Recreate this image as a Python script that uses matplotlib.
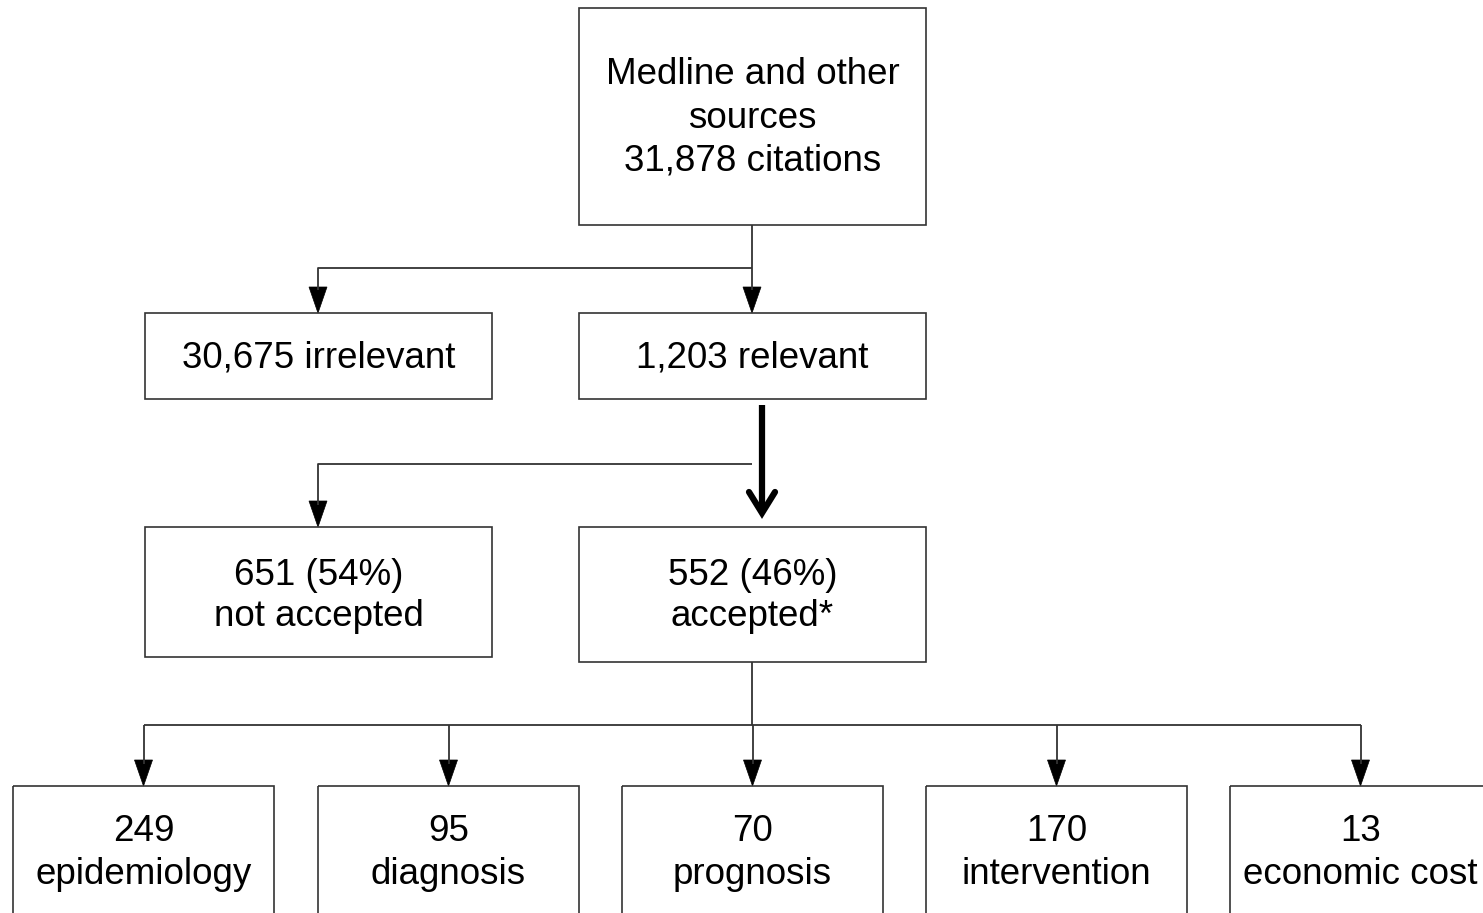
import matplotlib.pyplot as plt
from matplotlib.patches import Rectangle, Polygon

plt.rcParams['font.family'] = ['Liberation Sans', 'DejaVu Sans']

# flow counts and labels
top_label = 'Medline and other\nsources\n31,878 citations'
screen_counts = [30675, 1203]
screen_labels = ['irrelevant', 'relevant']
accept_counts = [651, 552]
accept_pcts = [54, 46]
accept_labels = ['not accepted', 'accepted*']
topic_counts = [249, 95, 70, 170, 13]
topic_labels = ['epidemiology', 'diagnosis', 'prognosis', 'intervention', 'economic cost']

W, H = 1483, 913
EDGE = '#333333'
FS = 26.5


def box(ax, x0, y0, x1, y1, text, ty=None, color=EDGE, ls=1.3):
    ax.add_patch(Rectangle((x0, y0), x1 - x0, y1 - y0, fill=False, ec=color, lw=1.2))
    if ty is None:
        ty = (y0 + y1) / 2
    ax.text((x0 + x1) / 2, ty + 2, text, ha='center', va='center', fontsize=FS,
            linespacing=ls)


def head(ax, x, y, w=18, l=26):
    ax.add_patch(Polygon([(x - w / 2, y - l), (x + w / 2, y - l), (x, y)],
                         closed=True, fc='black', ec='black', lw=0.5))


def line(ax, xs, ys):
    ax.plot(xs, ys, color=EDGE, lw=1.3, solid_capstyle='butt')


fig = plt.figure(figsize=(W / 100, H / 100), dpi=100)
ax = fig.add_axes([0, 0, 1, 1])
ax.set_xlim(0, W)
ax.set_ylim(H, 0)
ax.axis('off')

# top box
box(ax, 579, 8, 926, 225, top_label, ty=116)

# split 1
line(ax, [752, 752], [225, 290])
line(ax, [752, 318, 318], [268, 268, 290])
head(ax, 318, 313)
head(ax, 752, 313)

box(ax, 145, 313, 492, 399, f'{screen_counts[0]:,} {screen_labels[0]}')
box(ax, 579, 313, 926, 399, f'{screen_counts[1]:,} {screen_labels[1]}')

# thick arrow
ax.plot([762, 762], [405, 508], color='black', lw=4.5, solid_capstyle='butt')
ax.plot([749, 762, 775], [492, 513, 492], color='black', lw=4.5,
        solid_joinstyle='miter', solid_capstyle='round')

# split 2
line(ax, [752, 318, 318], [464, 464, 505])
head(ax, 318, 527)

box(ax, 145, 527, 492, 657,
    f'{accept_counts[0]} ({accept_pcts[0]}%)\n{accept_labels[0]}', ty=594, ls=1.25)
box(ax, 579, 527, 926, 662,
    f'{accept_counts[1]} ({accept_pcts[1]}%)\n{accept_labels[1]}', ty=594, ls=1.25)

# split 3 to topics
xs0 = [13, 318, 622, 926, 1230]
bw = 261
centers = [x + bw / 2 for x in xs0]
line(ax, [752, 752], [662, 725])
line(ax, [centers[0], centers[-1]], [725, 725])
for i, (x0, c) in enumerate(zip(xs0, centers)):
    line(ax, [c, c], [725, 764])
    head(ax, c, 786)
    box(ax, x0, 786, x0 + bw, 960, f'{topic_counts[i]}\n{topic_labels[i]}', ty=851)

fig.savefig('out.png', dpi=100)
